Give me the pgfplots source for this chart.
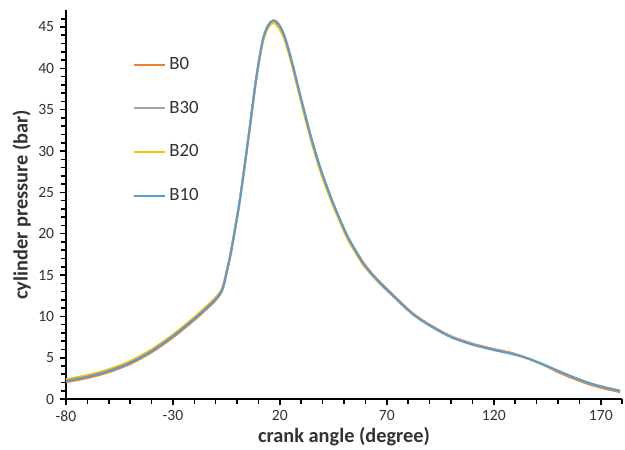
\documentclass[border=0pt]{standalone}
\usepackage{pgfplots}
\usepackage{pgfplotstable}
\pgfplotsset{compat=1.18}
\usepackage{fontspec}
\setmainfont{Carlito}
\definecolor{cB0}{RGB}{237,125,49}
\definecolor{cB30}{RGB}{165,165,165}
\definecolor{cB20}{RGB}{255,192,0}
\definecolor{cB10}{RGB}{91,155,213}
\definecolor{txt}{RGB}{50,50,50}
\pgfplotstableread{
x b0 b30 b20 b10
-80 2.05 2.2 2.4 2.2
-70 2.55 2.7 2.9 2.7
-60 3.25 3.4 3.6 3.4
-50 4.25 4.4 4.6 4.4
-40 5.65 5.8 6.0 5.8
-30 7.45 7.6 7.8 7.6
-20 9.55 9.7 9.9 9.7
-14 10.95 11.1 11.3 11.1
-10 11.95 12.1 12.3 12.1
-7 13.1 13.2 13.4 13.2
-5 15.1 15.2 15.4 15.2
-3 17.5 17.6 17.8 17.6
-1 20.4 20.5 20.7 20.5
1 23.5 23.6 23.7 23.6
3 27.2 27.2 27.2 27.2
6 33.0 33.0 32.9 33.0
9 38.9 38.9 38.7 38.9
12 43.4 43.4 43.1 43.4
14.5 45.2 45.2 44.9 45.2
17 45.8 45.8 45.5 45.8
19.5 45.3 45.3 44.9 45.3
22 44.0 44.0 43.6 44.0
24 42.3 42.3 41.9 42.3
26 40.4 40.4 40.0 40.4
28 38.3 38.3 37.9 38.3
31 35.2 35.2 34.8 35.2
34 32.2 32.2 31.8 32.2
37 29.5 29.5 29.1 29.5
40 27.1 27.1 26.7 27.1
45 23.6 23.6 23.3 23.6
51 20.0 20.0 19.7 20.0
55 18.15 18.1 17.85 18.1
59 16.5 16.4 16.2 16.4
63 15.2 15.1 15.0 15.1
67 14.1 14.0 13.9 14.0
74.5 12.2 12.1 12.05 12.1
82 10.4 10.3 10.3 10.3
90 9.0 8.9 8.9 8.9
100 7.6 7.5 7.5 7.5
110 6.7 6.6 6.6 6.6
120 6.05 5.95 5.95 5.95
128 5.6 5.5 5.5 5.5
135 5.0 5.0 5.0 5.0
143 4.15 4.2 4.2 4.2
151 3.15 3.3 3.3 3.3
158 2.4 2.55 2.55 2.55
165 1.75 1.9 1.9 1.9
172 1.25 1.4 1.4 1.4
179 0.85 1.0 1.0 1.0
}\data
\begin{document}
\begin{tikzpicture}
\useasboundingbox (-42.2pt,-32pt) rectangle (357.8pt,255.4pt);
\begin{axis}[
  scale only axis,
  width=356pt, height=248.7pt,
  xmin=-80, xmax=180, ymin=0, ymax=47,
  axis lines=left,
  axis line style={line width=1.3pt, black, -},
  xtick={-80,-30,20,70,120,170},
  minor xtick={-70,-60,...,180},
  ytick={0,5,...,45},
  minor ytick={1,2,...,46},
  tick align=outside,
  major tick length=4pt, minor tick length=3pt,
  every tick/.style={black, line width=1pt},
  tick label style={font=\fontsize{10}{12}\selectfont, text=txt},
  /pgf/number format/assume math mode=true,
  xlabel={\bfseries crank angle (degree)},
  ylabel={\bfseries cylinder pressure (bar)},
  label style={font=\fontsize{13}{15}\selectfont, text=txt},
  xlabel style={yshift=3pt},
  ylabel style={yshift=-2pt},
  legend style={draw=none, fill=none, at={(axis cs:-51,42.1)}, anchor=north west,
    font=\fontsize{12}{14}\selectfont, text=txt, row sep=14.6pt},
  legend cell align=left,
  legend image code/.code={\draw[#1] (0pt,0pt) -- (20pt,0pt);},
]
\addplot[cB0, line width=1.3pt, smooth] table[x=x,y=b0]{\data};
\addlegendentry{B0}
\addplot[cB30, line width=1.3pt, smooth] table[x=x,y=b30]{\data};
\addlegendentry{B30}
\addplot[cB20, line width=1.3pt, smooth] table[x=x,y=b20]{\data};
\addlegendentry{B20}
\addplot[cB10, line width=1.3pt, smooth] table[x=x,y=b10]{\data};
\addlegendentry{B10}
\end{axis}
\end{tikzpicture}
\end{document}
